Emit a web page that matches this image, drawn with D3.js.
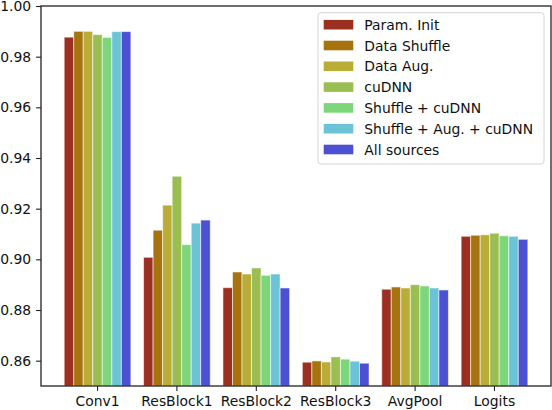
<!DOCTYPE html>
<html>
<head>
<meta charset="utf-8">
<script src="https://cdn.jsdelivr.net/npm/d3@7"></script>
<style>
  body { margin: 0; background: #fff; }
  svg { display: block; font-family: "DejaVu Sans", sans-serif; }
</style>
</head>
<body>
<div id="chart"></div>
<script>
// layers along the x axis
var categories = ["Conv1", "ResBlock1", "ResBlock2", "ResBlock3", "AvgPool", "Logits"];

// one array per source of nondeterminism, values read per layer
var seriesNames = ["Param. Init", "Data Shuffle", "Data Aug.", "cuDNN",
                   "Shuffle + cuDNN", "Shuffle + Aug. + cuDNN", "All sources"];
var paramInit   = [0.9877, 0.9008, 0.8888, 0.8594, 0.8882, 0.9091];
var dataShuffle = [0.9900, 0.9115, 0.8950, 0.8599, 0.8891, 0.9095];
var dataAug     = [0.9900, 0.9214, 0.8942, 0.8595, 0.8887, 0.9097];
var cudnn       = [0.9887, 0.9328, 0.8966, 0.8615, 0.8900, 0.9103];
var shufCudnn   = [0.9876, 0.9058, 0.8937, 0.8606, 0.8895, 0.9093];
var shufAugCud  = [0.9899, 0.9143, 0.8942, 0.8598, 0.8887, 0.9091];
var allSources  = [0.9899, 0.9155, 0.8887, 0.8590, 0.8879, 0.9079];
var seriesValues = [paramInit, dataShuffle, dataAug, cudnn, shufCudnn, shufAugCud, allSources];

var colors = ["#9b2f20", "#a6730f", "#baad37", "#9bbe53", "#7dd77a", "#6bc4d6", "#4c50d2"];

var yTicks = [0.86, 0.88, 0.90, 0.92, 0.94, 0.96, 0.98, 1.00];

function drawChart() {
    var W = 552, H = 410;
    var plotL = 41, plotR = 551, plotT = 6, plotB = 386;
    var fs = 13.9;

    var svg = d3.select("#chart").append("svg")
        .attr("width", W)
        .attr("height", H);

    var x = d3.scaleBand()
        .domain(categories)
        .range([plotL, plotR])
        .paddingInner(0.16)
        .paddingOuter(0.292);

    var xs = d3.scaleBand()
        .domain(d3.range(seriesNames.length))
        .range([0, x.bandwidth()]);

    var y = d3.scaleLinear()
        .domain([0.85, 1.0])
        .range([plotB, plotT]);

    // bars
    seriesValues.forEach(function (vals, s) {
        svg.append("g")
            .selectAll("rect")
            .data(vals)
            .enter().append("rect")
            .attr("x", function (d, i) { return x(categories[i]) + xs(s); })
            .attr("y", function (d) { return y(d); })
            .attr("width", xs.bandwidth())
            .attr("height", function (d) { return plotB - y(d); })
            .attr("fill", colors[s])
            .attr("stroke", "#fff")
            .attr("stroke-opacity", 0.55)
            .attr("stroke-width", 1);
    });

    // axes
    var yAxis = d3.axisLeft(y)
        .tickValues(yTicks)
        .tickFormat(d3.format(".2f"))
        .tickSize(4.9)
        .tickPadding(4.9);

    var gy = svg.append("g")
        .attr("transform", "translate(" + plotL + ",0)")
        .call(yAxis);
    gy.select(".domain").remove();
    gy.selectAll("line").attr("stroke", "#222").attr("stroke-width", 1.1);
    gy.selectAll("text").attr("font-size", fs).attr("fill", "#111")
        .attr("font-family", "DejaVu Sans");

    var xAxis = d3.axisBottom(x)
        .tickSize(4.9)
        .tickPadding(4.9);

    var gx = svg.append("g")
        .attr("transform", "translate(0," + plotB + ")")
        .call(xAxis);
    gx.select(".domain").remove();
    gx.selectAll("line").attr("stroke", "#222").attr("stroke-width", 1.1);
    gx.selectAll("text").attr("font-size", fs).attr("fill", "#111")
        .attr("font-family", "DejaVu Sans");

    // frame
    svg.append("rect")
        .attr("x", plotL)
        .attr("y", plotT)
        .attr("width", plotR - plotL)
        .attr("height", plotB - plotT)
        .attr("fill", "none")
        .attr("stroke", "#222")
        .attr("stroke-width", 1.3);

    // legend
    var lg = svg.append("g").attr("transform", "translate(318,12.7)");
    lg.append("rect")
        .attr("width", 226)
        .attr("height", 151.3)
        .attr("rx", 3)
        .attr("fill", "#fff")
        .attr("fill-opacity", 0.8)
        .attr("stroke", "#d6d6d6")
        .attr("stroke-width", 1);

    var rows = lg.selectAll("g.row")
        .data(seriesNames)
        .enter().append("g")
        .attr("class", "row")
        .attr("transform", function (d, i) { return "translate(0," + (12 + i * 20.8) + ")"; });

    rows.append("rect")
        .attr("x", 5.7)
        .attr("y", -4.8)
        .attr("width", 29.6)
        .attr("height", 9.6)
        .attr("fill", function (d, i) { return colors[i]; });

    rows.append("text")
        .attr("x", 46.3)
        .attr("dy", "0.36em")
        .attr("font-size", fs)
        .attr("fill", "#111")
        .text(function (d) { return d; });
}

drawChart();
</script>
</body>
</html>
